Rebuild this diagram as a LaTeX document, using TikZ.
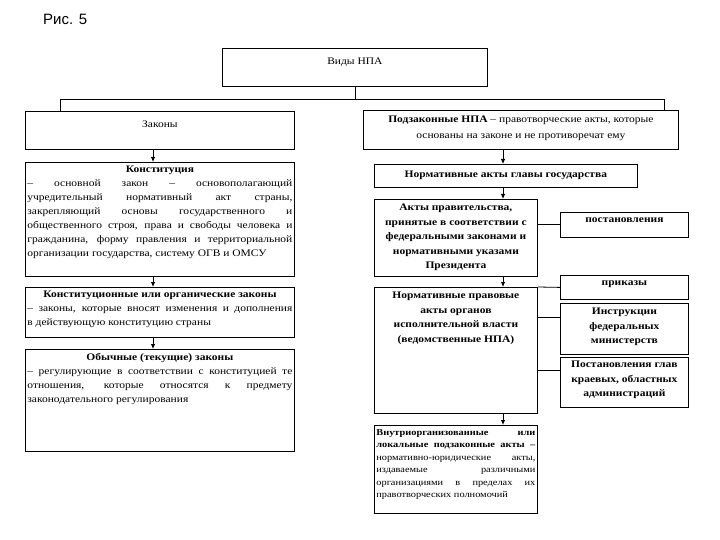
\documentclass[tikz,border=0pt]{standalone}
\usepackage{fontspec}
\setmainfont{Liberation Serif}[FakeStretch=1.15]
\newfontfamily\risfont{Liberation Sans}
\usetikzlibrary{arrows.meta}
\tikzset{
 frame/.style={draw, line width=0.8pt, inner sep=0pt, anchor=north west},
 conn/.style={line width=0.8pt},
 arr/.style={line width=0.8pt, -{Latex[length=5pt,width=4.5pt]}},
 txt/.style={anchor=north, inner sep=0pt, font=\fontsize{10}{14}\selectfont},
 ptxt/.style={txt, text width=265pt, align=justify},
 btxt/.style={txt, align=center, font=\bfseries\fontsize{10}{14.5}\selectfont},
}
\begin{document}
\begin{tikzpicture}[x=1pt,y=-1pt]
\useasboundingbox (0,0) rectangle (720,540);
\node[anchor=west, inner sep=0pt, font=\risfont\fontsize{15}{15}\selectfont] (ris) at (43,19) {Рис. 5};

\node[frame, minimum width=265pt, minimum height=38pt] (vid) at (222,48) {};
\node[txt] (vidt) at ([yshift=-10pt]vid.north) {Виды НПА};
\coordinate (busL) at (60,99);
\coordinate (busR) at (664,99);
\draw[conn] (vid.south) -- (vid.south |- busL);
\draw[conn] (busL) -- (busR);

% left column
\node[frame, minimum width=269pt, minimum height=38pt] (zak) at (25,111) {};
\node[txt] (zakt) at ([yshift=-10pt]zak.north) {Законы};
\node[frame, minimum width=269pt, minimum height=114pt] (kon) at (25,162) {};
\node[ptxt] (kont) at ([yshift=-4pt]kon.north) {{\centering\textbf{Конституция}\par}
– основной закон – основополагающий\linebreak
учредительный нормативный акт страны,\linebreak
закрепляющий основы государственного и\linebreak
общественного строя, права и свободы человека и\linebreak
гражданина, форму правления и территориальной\linebreak
организации государства, систему ОГВ и ОМСУ};
\node[frame, minimum width=269pt, minimum height=50pt] (korg) at (25,287) {};
\node[ptxt] (korgt) at ([yshift=-4pt]korg.north) {{\centering\textbf{Конституционные или органические законы}\par}
– законы, которые вносят изменения и дополнения\linebreak
в действующую конституцию страны};
\node[frame, minimum width=269pt, minimum height=102pt] (obych) at (25,349) {};
\node[ptxt] (obycht) at ([yshift=-4pt]obych.north) {{\centering\textbf{Обычные (текущие) законы}\par}
– регулирующие в соответствии с конституцией те\linebreak
отношения, которые относятся к предмету\linebreak
законодательного регулирования};

\draw[conn] (busL) -- (busL |- zak.north);
\coordinate (lx) at (153,0);
\draw[arr] (zak.south -| lx) -- (kon.north -| lx);
\draw[arr] (kon.south -| lx) -- (korg.north -| lx);
\draw[arr] (korg.south -| lx) -- (obych.north -| lx);

% right column
\node[frame, minimum width=315pt, minimum height=39pt] (podz) at (363,110) {};
\node[txt, align=center, font=\fontsize{10}{16}\selectfont] (podzt) at ([yshift=-6pt]podz.north) {\textbf{Подзаконные НПА} – правотворческие акты, которые\\основаны на законе и не противоречат ему};
\draw[conn] (busR) -- (busR |- podz.north);

\node[frame, minimum width=263pt, minimum height=23pt] (glav) at (374,164) {};
\node[btxt] (glavt) at ([yshift=-7pt]glav.north) {Нормативные акты главы государства};
\node[frame, minimum width=163pt, minimum height=77pt] (prav) at (374,199) {};
\node[btxt] (pravt) at ([yshift=-5pt]prav.north) {Акты правительства,\\принятые в соответствии с\\федеральными законами и\\нормативными указами\\Президента};
\node[frame, minimum width=128pt, minimum height=25pt] (postan) at (560,212) {};
\node[btxt] (postant) at ([yshift=-6pt]postan.north) {постановления};
\node[frame, minimum width=163pt, minimum height=126pt] (npa) at (374,287) {};
\node[btxt] (npat) at ([yshift=-5pt]npa.north) {Нормативные правовые\\акты органов\\исполнительной власти\\(ведомственные НПА)};
\node[frame, minimum width=128pt, minimum height=24pt] (prik) at (560,275) {};
\node[btxt] (prikt) at ([yshift=-6pt]prik.north) {приказы};
\node[frame, minimum width=128pt, minimum height=51pt] (instr) at (560,303) {};
\node[btxt] (instrt) at ([yshift=-5pt]instr.north) {Инструкции\\федеральных\\министерств};
\node[frame, minimum width=128pt, minimum height=50pt] (postgl) at (560,357) {};
\node[btxt] (postglt) at ([yshift=-4pt]postgl.north) {Постановления глав\\краевых, областных\\администраций};
\node[frame, minimum width=163pt, minimum height=88pt] (vnutr) at (374,425) {};
\node[txt, text width=159pt, align=justify, font=\fontsize{9}{12.5}\selectfont] (vnutrt) at ([yshift=-4pt]vnutr.north) {\textbf{Внутриорганизованные или\linebreak
локальные подзаконные акты –}\linebreak
нормативно-юридические акты,\linebreak
издаваемые различными\linebreak
организациями в пределах их\linebreak
правотворческих полномочий};

\coordinate (rx) at (503,0);
\draw[arr] (podz.south -| rx) -- (glav.north -| rx);
\draw[arr] (glav.south -| rx) -- (prav.north -| rx);
\draw[conn] (postan.west -| prav.east) -- (postan.west);
\draw[arr] (prav.south -| rx) -- (npa.north -| rx);
\draw[conn] (npa.north east) -- (prik.west);
\path (instr.north west) ++(0,14) coordinate (ia);
\draw[conn] (ia -| npa.east) -- (ia);
\path (postgl.north west) ++(0,13) coordinate (pa);
\draw[conn] (pa -| npa.east) -- (pa);
\draw[arr] (npa.south -| rx) -- (vnutr.north -| rx);
\end{tikzpicture}
\end{document}
